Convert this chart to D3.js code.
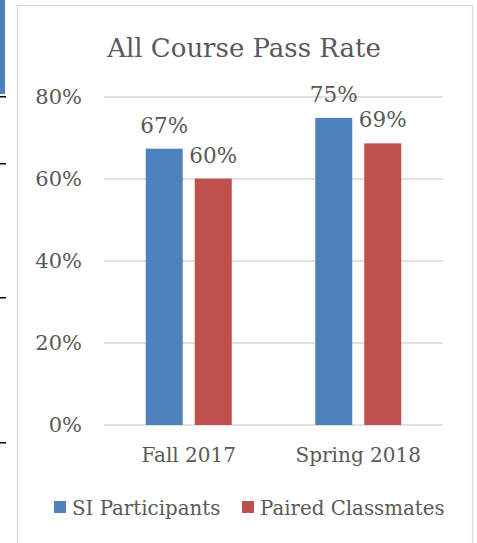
<!DOCTYPE html>
<html>
<head>
<meta charset="utf-8">
<script src="https://cdn.jsdelivr.net/npm/d3@7"></script>
<style>
  body { margin: 0; background: #fff; }
  text { font-family: "DejaVu Serif", serif; fill: #595959; }
</style>
</head>
<body>
<div id="chart"></div>
<script>
// Data
const categories = ["Fall 2017", "Spring 2018"];
const seriesNames = ["SI Participants", "Paired Classmates"];
const siValues = [0.674, 0.749];
const pairedValues = [0.601, 0.687];
const valueLabels = [["67%", "60%"], ["75%", "69%"]];
const yTicks = [0, 0.2, 0.4, 0.6, 0.8];
const colors = ["#4F81BD", "#C0504D"];

const W = 477, H = 543;

const svg = d3.select("#chart")
  .append("svg")
  .attr("width", W)
  .attr("height", H);

// bits of the surrounding page on the left edge
svg.append("rect").attr("x", 0).attr("y", 0).attr("width", 5).attr("height", 94).attr("fill", "#4F81BD");
[96, 163, 297, 442].forEach(yy => {
  svg.append("rect").attr("x", 0).attr("y", yy).attr("width", 6).attr("height", 1.5).attr("fill", "#000");
});

// chart frame
svg.append("rect")
  .attr("x", 17.5).attr("y", 5.5)
  .attr("width", 455).attr("height", 560)
  .attr("fill", "#fff")
  .attr("stroke", "#D9D9D9")
  .attr("stroke-width", 1.2);

// scales
const x0 = d3.scaleBand()
  .domain(categories)
  .range([104, 443]);

const x1 = d3.scaleBand()
  .domain(seriesNames)
  .range([41.75, 127.75])
  .paddingInner(0.245);

const y = d3.scaleLinear()
  .domain([0, 0.8])
  .range([425, 97]);

// gridlines
svg.append("g")
  .selectAll("line")
  .data(yTicks)
  .enter().append("line")
  .attr("x1", 104).attr("x2", 443)
  .attr("y1", d => y(d)).attr("y2", d => y(d))
  .attr("stroke", "#D9D9D9")
  .attr("stroke-width", 1.3);

// y axis labels
const yAxis = svg.append("g")
  .attr("transform", "translate(82,0)")
  .call(d3.axisLeft(y).tickValues(yTicks).tickFormat(d3.format(".0%")).tickSize(0).tickPadding(0));
yAxis.select(".domain").remove();
yAxis.selectAll("text")
  .attr("font-family", "DejaVu Serif")
  .style("font-size", "21px")
  .attr("fill", "#595959");

// x axis labels
const xAxis = svg.append("g")
  .attr("transform", "translate(0,425)")
  .call(d3.axisBottom(x0).tickSize(0).tickPadding(23));
xAxis.select(".domain").remove();
xAxis.selectAll("text")
  .attr("font-family", "DejaVu Serif")
  .style("font-size", "20px")
  .attr("fill", "#595959");

// bars
const rows = categories.map((c, i) => ({
  cat: c,
  vals: [siValues[i], pairedValues[i]].map((v, j) => ({ series: seriesNames[j], value: v, label: valueLabels[i][j], color: colors[j] }))
}));

const groups = svg.append("g")
  .selectAll("g")
  .data(rows)
  .enter().append("g")
  .attr("transform", d => `translate(${x0(d.cat)},0)`);

groups.selectAll("rect")
  .data(d => d.vals)
  .enter().append("rect")
  .attr("x", d => x1(d.series))
  .attr("y", d => y(d.value))
  .attr("width", x1.bandwidth())
  .attr("height", d => y(0) - y(d.value))
  .attr("fill", d => d.color);

groups.selectAll("text")
  .data(d => d.vals)
  .enter().append("text")
  .attr("x", d => x1(d.series) + x1.bandwidth() / 2)
  .attr("y", d => y(d.value) - 16)
  .attr("text-anchor", "middle")
  .style("font-size", "21.5px")
  .attr("fill", "#404040")
  .text(d => d.label);

// title
svg.append("text")
  .attr("x", 244)
  .attr("y", 57)
  .attr("text-anchor", "middle")
  .style("font-size", "26px")
  .text("All Course Pass Rate");

// legend
const legendX = [54, 242];
const legend = svg.append("g")
  .selectAll("g")
  .data(seriesNames)
  .enter().append("g")
  .attr("transform", (d, i) => `translate(${legendX[i]},501)`);

legend.append("rect")
  .attr("width", 12).attr("height", 12)
  .attr("fill", (d, i) => colors[i]);

legend.append("text")
  .attr("x", 18)
  .attr("y", 14)
  .style("font-size", "19.8px")
  .text(d => d);
</script>
</body>
</html>
